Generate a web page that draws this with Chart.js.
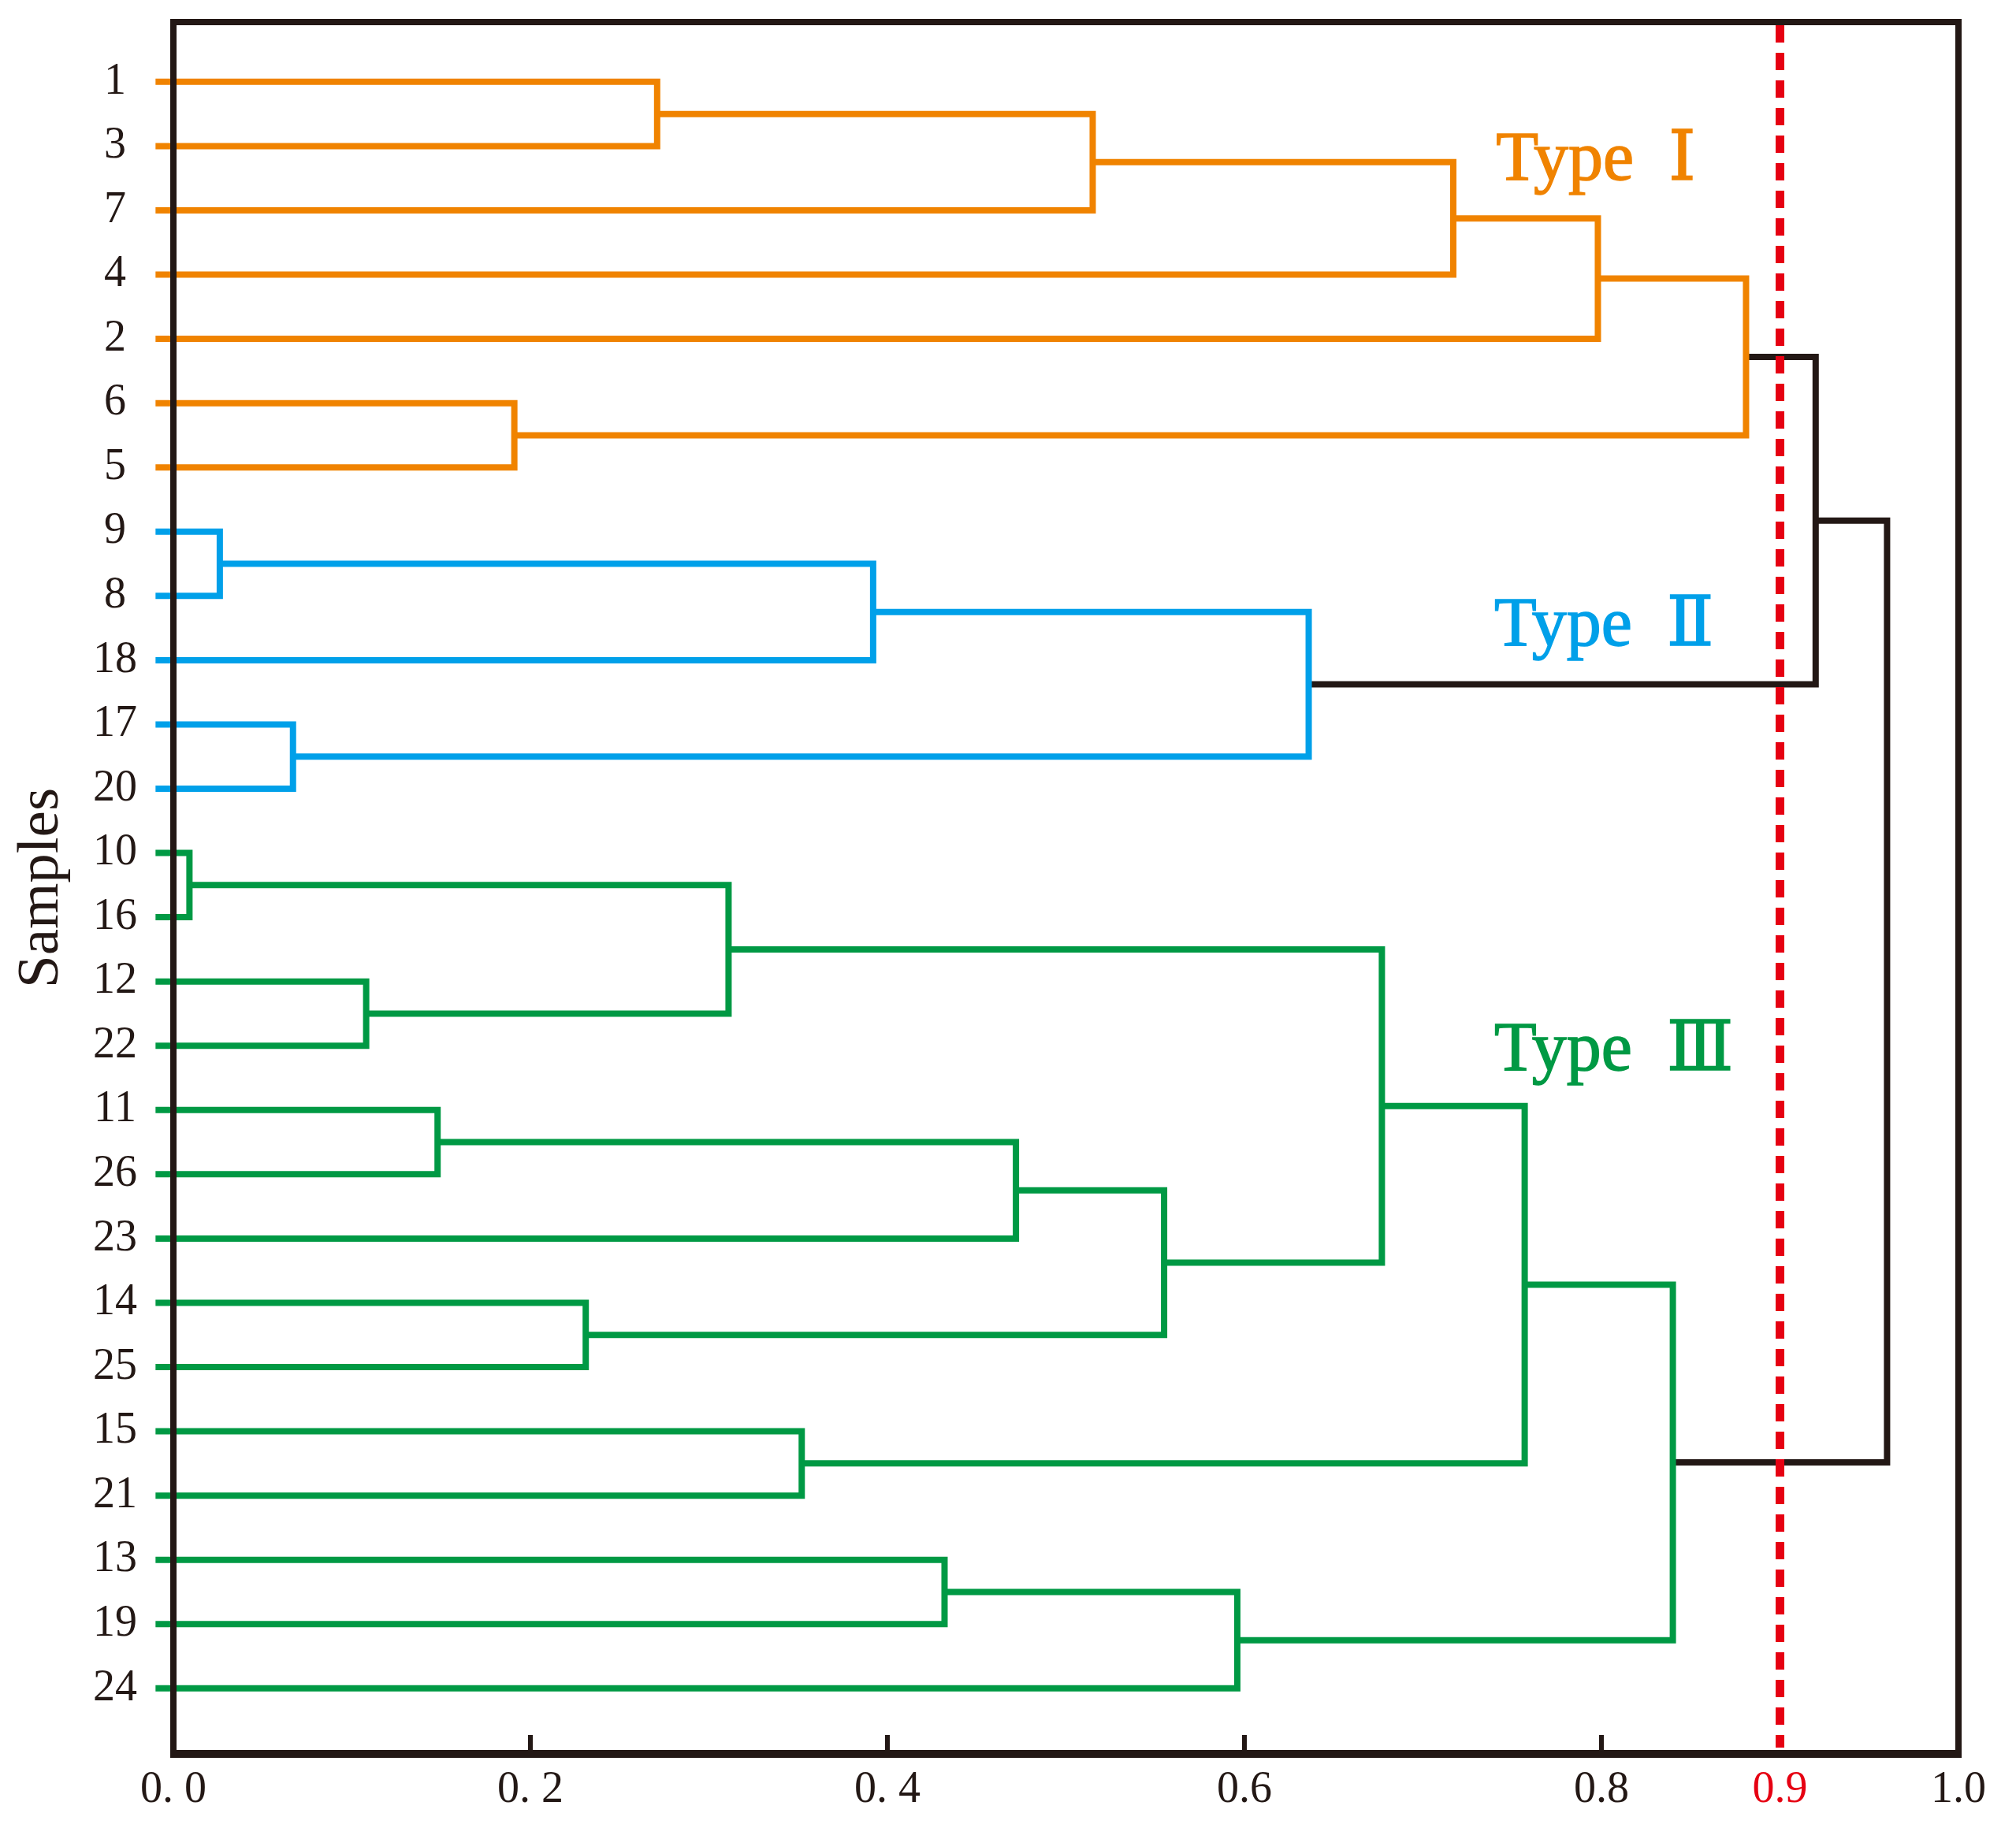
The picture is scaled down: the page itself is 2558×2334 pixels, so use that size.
<!DOCTYPE html>
<html>
<head>
<meta charset="utf-8">
<script src="https://cdn.jsdelivr.net/npm/chart.js@4.4.1/dist/chart.umd.min.js"></script>
<style>
  html, body { margin: 0; padding: 0; background: #ffffff; }
  #wrap { width: 2558px; height: 2334px; position: relative; }
</style>
</head>
<body>
<div id="wrap"><canvas id="dendro"></canvas></div>
<script>
// leaves, top to bottom
var samples = ['1', '3', '7', '4', '2', '6', '5', '9', '8', '18', '17', '20', '10', '16',
    '12', '22', '11', '26', '23', '14', '25', '15', '21', '13', '19', '24'];
// 0 = Type I, 1 = Type II, 2 = Type III
var sampleType = [0, 0, 0, 0, 0, 0, 0, 1, 1, 1, 1, 1, 2, 2, 2, 2, 2, 2, 2, 2, 2, 2, 2, 2, 2, 2];

// merges: node ids 0..25 are leaves, merge k becomes node 26 + k
var mergeA = [0, 26, 27, 28, 5, 29, 7, 32, 10, 33, 31, 12, 14, 37, 16, 40, 19, 41, 39, 21, 44, 23, 47, 46, 36];
var mergeB = [1, 2, 3, 4, 6, 30, 8, 9, 11, 34, 35, 13, 15, 38, 17, 18, 20, 42, 43, 22, 45, 24, 25, 48, 49];
var mergeHeight = [0.271, 0.515, 0.717, 0.798, 0.191, 0.881, 0.026, 0.392, 0.067, 0.636, 0.920,
    0.009, 0.108, 0.311, 0.148, 0.472, 0.231, 0.555, 0.677, 0.352, 0.757, 0.432, 0.596, 0.840, 0.960];

var typeNames = ['Type \u2160', 'Type \u2161', 'Type \u2162'];
var xTickValues = [0, 0.2, 0.4, 0.6, 0.8, 0.9, 1.0];
var xTickLabels = ['0. 0', '0. 2', '0. 4', '0.6', '0.8', '0.9', '1.0'];
var cutLevel = 0.9;

var typeColors = ['#f08300', '#00a0e9', '#009944'];
var ink = '#231815';
var red = '#e60012';
var LEAF_X = -0.010;
var serif = '"Liberation Serif", "Times New Roman", "DejaVu Serif", serif';

// where the type names sit (data units)
var typeLabelPos = [{x: 0.741, y: 1.52}, {x: 0.740, y: 8.77}, {x: 0.740, y: 15.38}];

// work out node positions and colours from the merge table
var n = samples.length;
var nodeY = [], nodeH = [], nodeType = [];
for (var i = 0; i < n; i++) {
    nodeY[i] = i;
    nodeH[i] = LEAF_X;
    nodeType[i] = sampleType[i];
}
var datasets = [];
mergeHeight.forEach(function (h, k) {
    var a = mergeA[k], b = mergeB[k];
    var id = n + k;
    nodeY[id] = (nodeY[a] + nodeY[b]) / 2;
    nodeH[id] = h;
    nodeType[id] = nodeType[a] === nodeType[b] ? nodeType[a] : -1;
    datasets.push({
        data: [
            {x: nodeH[a], y: nodeY[a]},
            {x: h, y: nodeY[a]},
            {x: h, y: nodeY[b]},
            {x: nodeH[b], y: nodeY[b]}
        ],
        showLine: true,
        borderColor: nodeType[id] >= 0 ? typeColors[nodeType[id]] : ink,
        borderWidth: 8,
        borderJoinStyle: 'miter',
        borderCapStyle: 'butt',
        pointRadius: 0,
        fill: false,
        tension: 0,
        clip: false
    });
});

var framePlugin = {
    id: 'frame',
    afterDatasetsDraw: function (chart) {
        var ctx = chart.ctx, a = chart.chartArea;
        var x = chart.scales.x, y = chart.scales.y;
        ctx.save();

        // cut-off line
        var cx = x.getPixelForValue(cutLevel);
        ctx.strokeStyle = red;
        ctx.lineWidth = 11;
        ctx.setLineDash([22, 13]);
        ctx.beginPath();
        ctx.moveTo(cx, a.top + 4);
        ctx.lineTo(cx, a.bottom - 8);
        ctx.stroke();
        ctx.setLineDash([]);

        // box
        ctx.strokeStyle = ink;
        ctx.lineWidth = 8;
        ctx.strokeRect(a.left, a.top, a.right - a.left, a.bottom - a.top);
        ctx.lineWidth = 10;
        ctx.beginPath();
        ctx.moveTo(a.left - 4, a.bottom);
        ctx.lineTo(a.right + 4, a.bottom);
        ctx.stroke();

        // inward tick marks
        ctx.lineWidth = 6;
        [0.2, 0.4, 0.6, 0.8].forEach(function (v) {
            var px = x.getPixelForValue(v);
            ctx.beginPath();
            ctx.moveTo(px, a.bottom);
            ctx.lineTo(px, a.bottom - 24);
            ctx.stroke();
        });

        // type names
        ctx.font = '88px ' + serif;
        ctx.textAlign = 'left';
        ctx.textBaseline = 'alphabetic';
        ctx.wordSpacing = '22px';
        typeNames.forEach(function (t, i) {
            var px = x.getPixelForValue(typeLabelPos[i].x);
            var py = y.getPixelForValue(typeLabelPos[i].y);
            ctx.fillStyle = typeColors[i];
            ctx.strokeStyle = typeColors[i];
            ctx.lineWidth = 1.5;
            ctx.fillText(t, px, py);
            ctx.strokeText(t, px, py);
        });
        ctx.restore();
    }
};

new Chart(document.getElementById('dendro'), {
    type: 'scatter',
    data: {datasets: datasets},
    options: {
        responsive: true,
        maintainAspectRatio: false,
        devicePixelRatio: 1,
        animation: false,
        layout: {padding: {left: 0, top: 28, right: 73, bottom: 0}},
        plugins: {
            legend: {display: false},
            tooltip: {enabled: false}
        },
        scales: {
            x: {
                type: 'linear',
                min: 0,
                max: 1,
                grid: {display: false, drawTicks: false},
                border: {display: false},
                afterFit: function (s) {
                    s.height = 108;
                    s.paddingLeft = 0;
                    s.paddingRight = 0;
                },
                afterBuildTicks: function (s) {
                    s.ticks = xTickValues.map(function (v) { return {value: v}; });
                },
                ticks: {
                    autoSkip: false,
                    maxRotation: 0,
                    padding: 13,
                    font: {family: serif, size: 56},
                    color: function (c) { return c.tick && c.tick.value === cutLevel ? red : ink; },
                    callback: function (v, i) { return xTickLabels[i]; }
                }
            },
            y: {
                type: 'linear',
                reverse: true,
                min: -0.93,
                max: 26.02,
                grid: {display: false, drawTicks: false},
                border: {display: false},
                afterFit: function (s) {
                    s.width = 220;
                    s.paddingTop = 0;
                    s.paddingBottom = 0;
                },
                afterBuildTicks: function (s) {
                    s.ticks = samples.map(function (lab, i) { return {value: i}; });
                },
                title: {
                    display: true,
                    text: 'Samples',
                    color: ink,
                    font: {family: serif, size: 75},
                    padding: {top: 8, bottom: 0}
                },
                ticks: {
                    autoSkip: false,
                    crossAlign: 'center',
                    padding: 46,
                    color: ink,
                    font: {family: serif, size: 56},
                    callback: function (v, i) { return samples[i]; }
                }
            }
        }
    },
    plugins: [framePlugin]
});
</script>
</body>
</html>
